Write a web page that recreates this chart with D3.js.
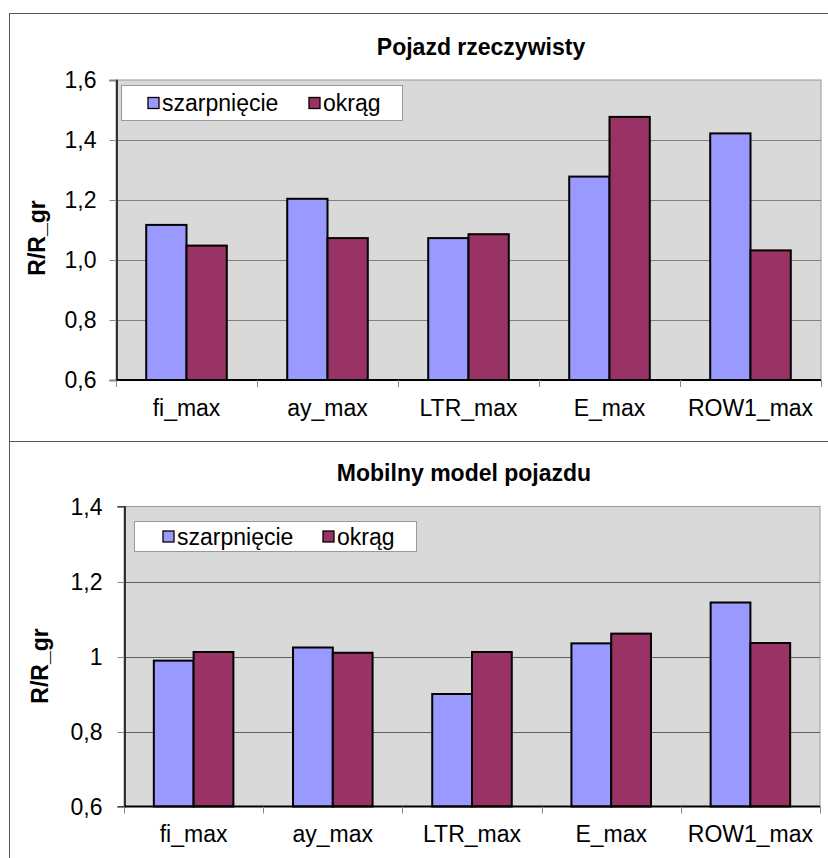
<!DOCTYPE html>
<html><head><meta charset="utf-8">
<script src="https://cdn.jsdelivr.net/npm/d3@7"></script>
<style>
html,body{margin:0;padding:0;background:#fff;}
svg{display:block;font-family:"Liberation Sans",Arial,sans-serif;}
</style></head>
<body>
<svg id="chart" width="828" height="858"></svg>
<script>
// ---- data ----
const categories = ["fi_max", "ay_max", "LTR_max", "E_max", "ROW1_max"];
const seriesNames = ["szarpnięcie", "okrąg"];
const seriesColors = ["#9999FF", "#993366"];

const realTitle = "Pojazd rzeczywisty";
const realJerk   = [1.117, 1.204, 1.073, 1.278, 1.422];
const realCircle = [1.048, 1.073, 1.086, 1.477, 1.032];
const realTicks = [0.6, 0.8, 1.0, 1.2, 1.4, 1.6];
const realTickLabels = ["0,6", "0,8", "1,0", "1,2", "1,4", "1,6"];

const mobileTitle = "Mobilny model pojazdu";
const mobileJerk   = [0.989, 1.024, 0.900, 1.035, 1.144];
const mobileCircle = [1.012, 1.010, 1.012, 1.061, 1.036];
const mobileTicks = [0.6, 0.8, 1.0, 1.2, 1.4];
const mobileTickLabels = ["0,6", "0,8", "1", "1,2", "1,4"];

const yLabel = "R/R_gr";

// ---- layout ----
const svg = d3.select("#chart");

// outer frames
svg.append("rect").attr("x", 9.5).attr("y", 13.5).attr("width", 830).attr("height", 428)
  .attr("fill", "none").attr("stroke", "#555").attr("stroke-width", 1);
svg.append("rect").attr("x", 9.5).attr("y", 441.5).attr("width", 830).attr("height", 430)
  .attr("fill", "none").attr("stroke", "#555").attr("stroke-width", 1);

function panel(cfg) {
  const g = svg.append("g");
  const x = d3.scaleBand().domain(categories).range([cfg.left, cfg.right])
    .paddingInner(1.5 / 3.5).paddingOuter(0.75 / 3.5);
  const xs = d3.scaleBand().domain(seriesNames).range([0, x.bandwidth()]).padding(0);
  const y = d3.scaleLinear().domain([cfg.ticks[0], cfg.ticks[cfg.ticks.length - 1]])
    .range([cfg.bottom, cfg.top]);

  // plot area
  g.append("rect").attr("x", cfg.left).attr("y", cfg.top)
    .attr("width", cfg.right - cfg.left).attr("height", cfg.bottom - cfg.top)
    .attr("fill", "#D9D9D9").attr("stroke", "#999").attr("stroke-width", 1);

  // gridlines
  g.append("g").selectAll("line").data(cfg.ticks.slice(1, -1)).join("line")
    .attr("x1", cfg.left).attr("x2", cfg.right)
    .attr("y1", d => Math.round(y(d)) + 0.5).attr("y2", d => Math.round(y(d)) + 0.5)
    .attr("stroke", cfg.gridColor).attr("stroke-width", 1);

  // y axis
  const yAxis = d3.axisLeft(y).tickValues(cfg.ticks)
    .tickFormat((d, i) => cfg.tickLabels[i]).tickSize(7).tickPadding(cfg.tickPad);
  const ya = g.append("g").attr("transform", `translate(${cfg.left + 0.5},0)`).call(yAxis);
  ya.select(".domain").attr("stroke", "#000").attr("stroke-width", 1.5);
  ya.selectAll(".tick line").attr("stroke", "#888");
  ya.selectAll(".tick").attr("transform", d => `translate(0,${Math.round(y(d)) + 0.5})`);
  ya.selectAll("text").attr("font-size", 23).attr("fill", "#000")
    .attr("font-family", "'Liberation Sans',Arial,sans-serif");

  // bars
  const data = categories.map((c, i) => ({ c, vals: [cfg.s1[i], cfg.s2[i]] }));
  const groups = g.append("g").selectAll("g").data(data).join("g")
    .attr("transform", d => `translate(${x(d.c)},0)`);
  groups.selectAll("rect").data(d => d.vals.map((v, k) => ({ v, k }))).join("rect")
    .attr("x", d => xs(seriesNames[d.k]))
    .attr("width", xs.bandwidth())
    .attr("y", d => y(d.v))
    .attr("height", d => y(cfg.ticks[0]) - y(d.v))
    .attr("fill", d => seriesColors[d.k])
    .attr("stroke", "#000").attr("stroke-width", 2);

  // x axis baseline
  g.append("line").attr("x1", cfg.left).attr("x2", cfg.right)
    .attr("y1", y(cfg.ticks[0])).attr("y2", y(cfg.ticks[0]))
    .attr("stroke", "#000").attr("stroke-width", 2);
  // x ticks at category boundaries
  const step = x.step();
  const bounds = d3.range(categories.length + 1).map(i => cfg.left + i * step);
  g.append("g").selectAll("line").data(bounds).join("line")
    .attr("x1", d => Math.round(d) + 0.5).attr("x2", d => Math.round(d) + 0.5)
    .attr("y1", y(cfg.ticks[0])).attr("y2", y(cfg.ticks[0]) + 7)
    .attr("stroke", "#888");
  // category labels
  g.append("g").selectAll("text").data(categories).join("text")
    .attr("x", d => x(d) + x.bandwidth() / 2)
    .attr("y", cfg.catBaseline)
    .attr("text-anchor", "middle").attr("font-size", 23).attr("fill", "#000")
    .text(d => d);

  // title
  g.append("text").attr("x", cfg.titleX).attr("y", cfg.titleY)
    .attr("text-anchor", "middle").attr("font-size", 23).attr("font-weight", "bold")
    .text(cfg.title);

  // y label
  g.append("text").attr("transform", `translate(${cfg.yLabelX},${cfg.yLabelY}) rotate(-90)`)
    .attr("text-anchor", "middle").attr("dominant-baseline", "central")
    .attr("font-size", 23).attr("font-weight", "bold").text(yLabel);

  // legend
  const lg = g.append("g");
  lg.append("rect").attr("x", cfg.legend.x).attr("y", cfg.legend.y)
    .attr("width", cfg.legend.w).attr("height", cfg.legend.h)
    .attr("fill", "#fff").attr("stroke", "#999");
  const cy = cfg.legend.y + cfg.legend.h / 2;
  seriesNames.forEach((n, k) => {
    const sx = cfg.legend.sw[k];
    lg.append("rect").attr("x", sx).attr("y", cy - 5.5).attr("width", 11).attr("height", 11)
      .attr("fill", seriesColors[k]).attr("stroke", "#000").attr("stroke-width", 1.3);
    lg.append("text").attr("x", sx + 14).attr("y", cy + 8)
      .attr("font-size", 23).attr("fill", "#000").text(n);
  });
}

panel({
  left: 116, right: 821, top: 80, bottom: 380,
  ticks: realTicks, tickLabels: realTickLabels, tickPad: 13,
  s1: realJerk, s2: realCircle, gridColor: "#808080",
  catBaseline: 416, title: realTitle, titleX: 481, titleY: 55,
  yLabelX: 37, yLabelY: 238,
  legend: { x: 121.5, y: 85.5, w: 281, h: 35, sw: [148, 309] }
});

panel({
  left: 124, right: 820, top: 506.5, bottom: 806.5,
  ticks: mobileTicks, tickLabels: mobileTickLabels, tickPad: 15,
  s1: mobileJerk, s2: mobileCircle, gridColor: "#606060",
  catBaseline: 842, title: mobileTitle, titleX: 464, titleY: 481,
  yLabelX: 39.5, yLabelY: 666,
  legend: { x: 134.5, y: 521.5, w: 282, h: 30, sw: [163, 323] }
});
</script>
</body></html>
